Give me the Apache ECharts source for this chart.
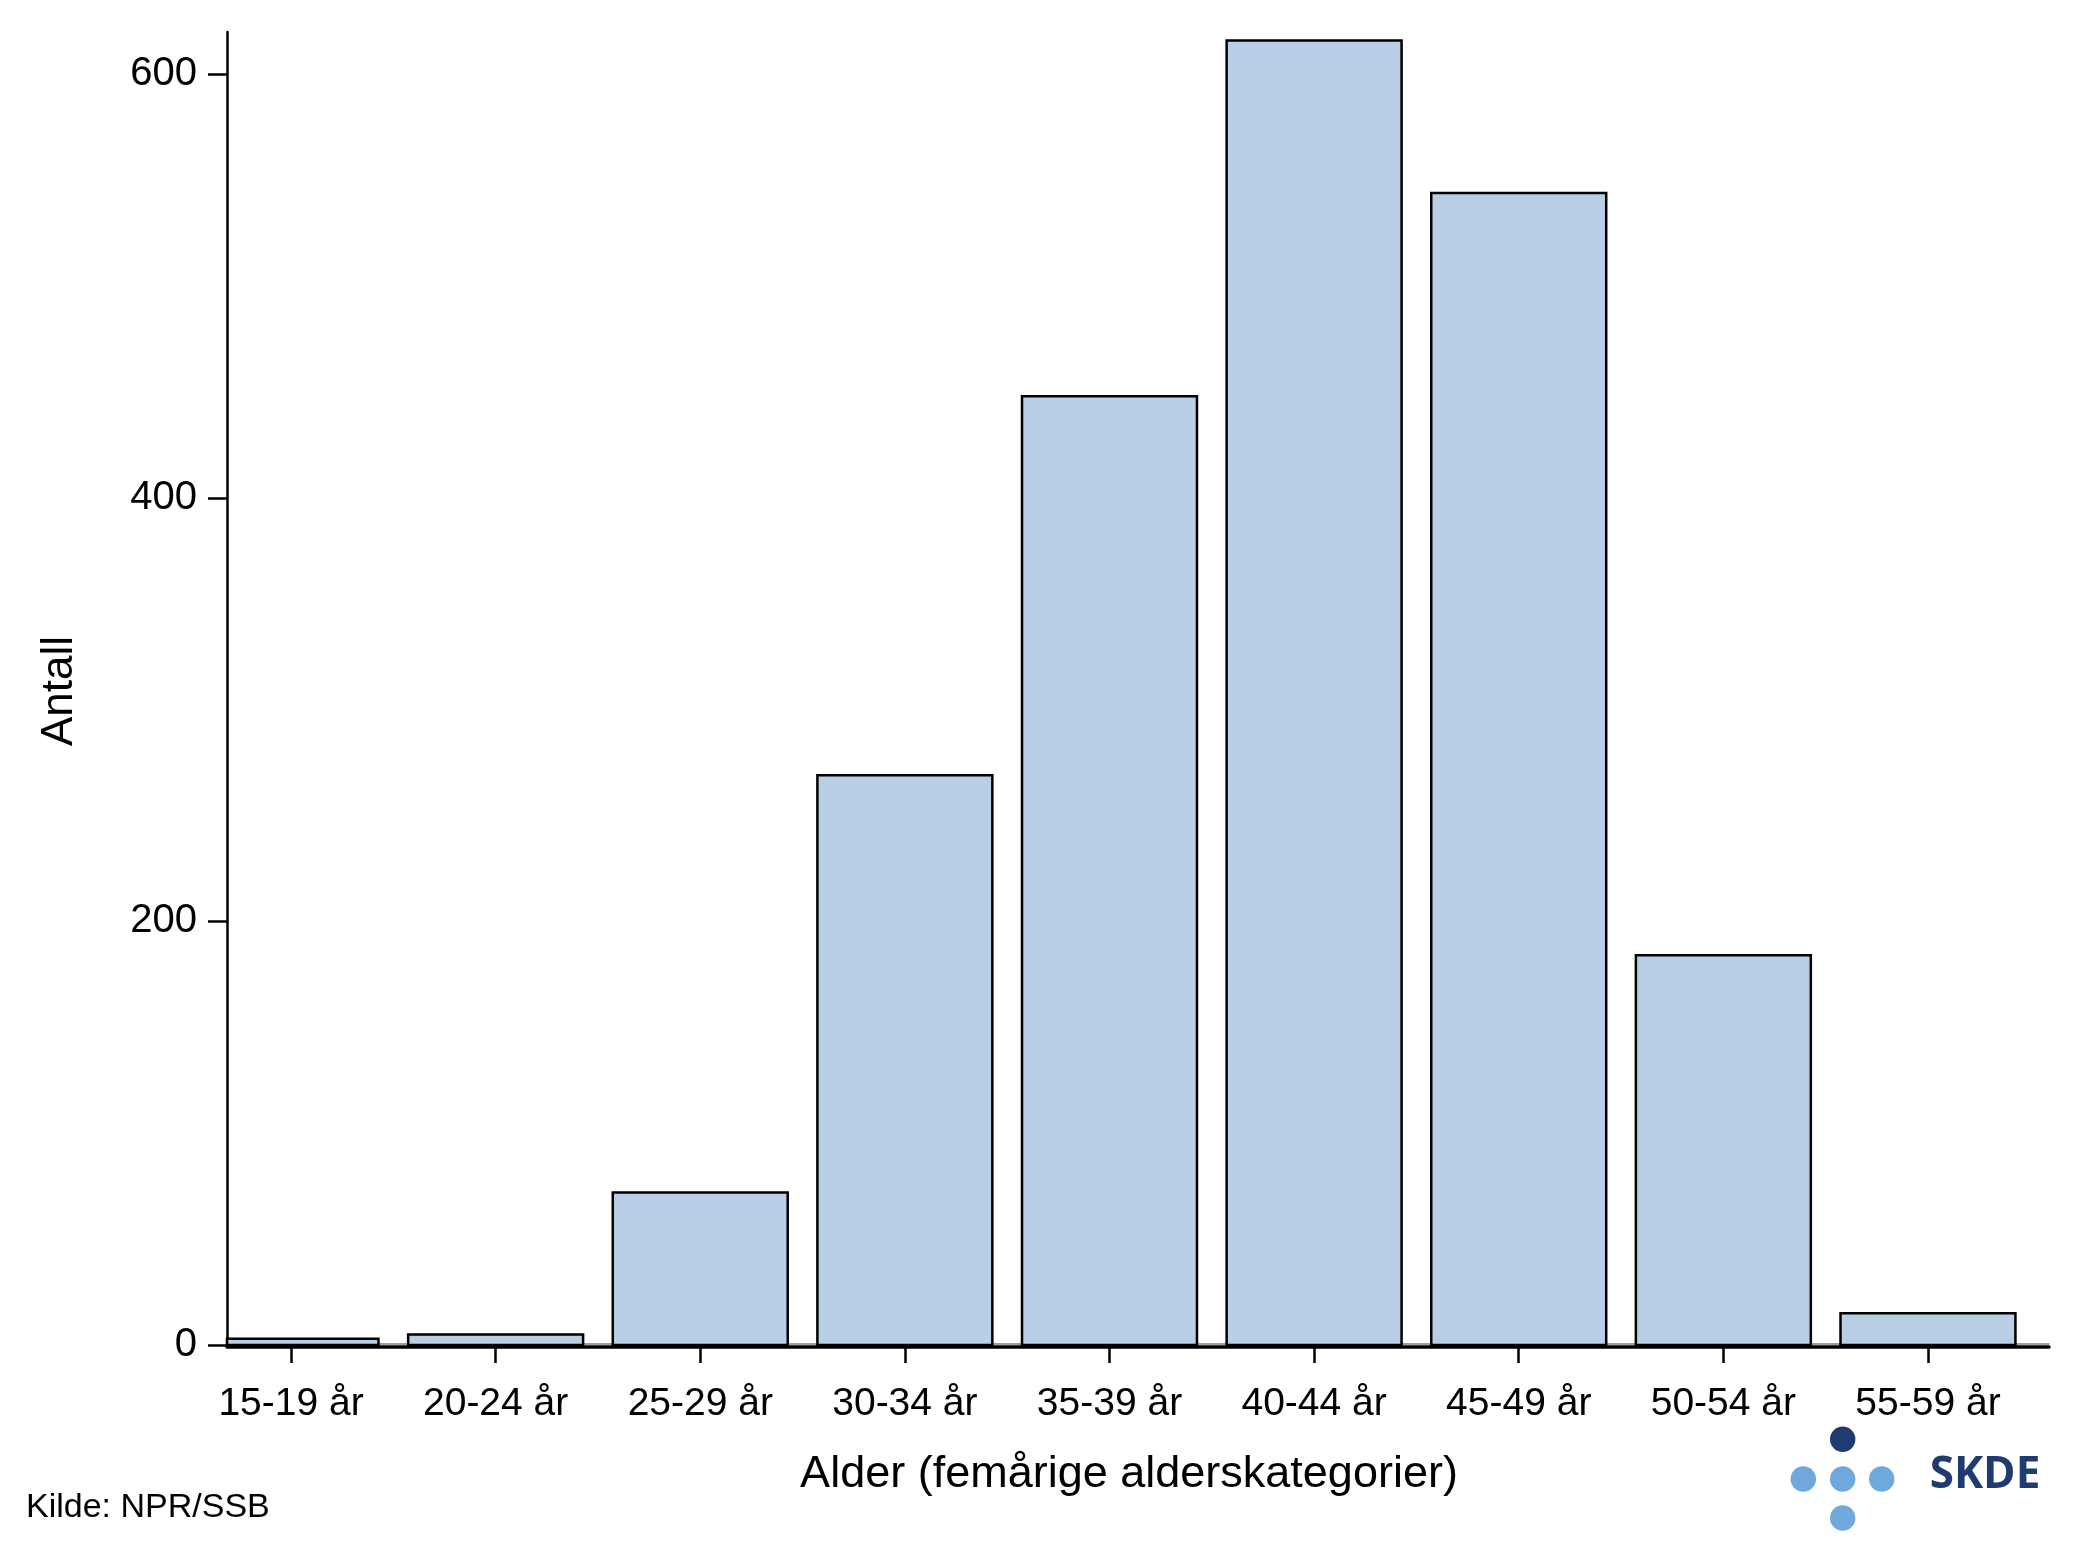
<!DOCTYPE html>
<html>
<head>
<meta charset="utf-8">
<script src="https://cdn.jsdelivr.net/npm/echarts@6/dist/echarts.min.js"></script>
<style>
html,body{margin:0;padding:0;background:#fff;}
#chart{width:2083px;height:1562px;}
</style>
</head>
<body>
<div id="chart"></div>
<script>
const categories = ['15-19 år','20-24 år','25-29 år','30-34 år','35-39 år','40-44 år','45-49 år','50-54 år','55-59 år'];
const antall = [3, 5, 72, 269, 448, 616, 544, 184, 15];
const yTicks = [0, 200, 400, 600];
const xTitle = 'Alder (femårige alderskategorier)';
const yTitle = 'Antall';
const source = 'Kilde: NPR/SSB';
const logoText = 'SKDE';

const FONT = '"Liberation Sans", Arial, sans-serif';
const chart = echarts.init(document.getElementById('chart'), null, {renderer: 'canvas'});

const gridTop = 32, gridBottom = 217;
const yMax = 620;
// bars are placed on a value axis by category index so they can be clipped at the y axis
const barData = antall.map((v, i) => [i, v]);

function renderBar(params, api) {
  const i = api.value(0), v = api.value(1);
  const top = api.coord([i, v]);
  const base = api.coord([i, 0]);
  const w = api.size([1, 0])[0] * 0.855;
  const cs = params.coordSys;
  const rect = echarts.graphic.clipRectByRect(
    {x: top[0] - w / 2, y: top[1], width: w, height: base[1] - top[1]},
    {x: cs.x, y: cs.y - 5, width: cs.width, height: cs.height + 5}
  );
  if (!rect) return null;
  return {
    type: 'rect', shape: rect,
    style: {fill: '#B9CFE6', stroke: '#000', lineWidth: 2.5}
  };
}

const option = {
  backgroundColor: '#ffffff',
  animation: false,
  grid: [
    {left: 188.7, right: 52.7, top: gridTop, bottom: gridBottom, containLabel: false},
    {left: 227, right: 34, top: gridTop, bottom: gridBottom, containLabel: false}
  ],
  xAxis: [
    {
      type: 'category', gridIndex: 0, data: categories, boundaryGap: true,
      offset: 3,
      axisLine: {show: false},
      axisTick: {show: true, alignWithLabel: true, length: 18, lineStyle: {color: '#000', width: 2.5}},
      axisLabel: {show: true, color: '#000', fontFamily: FONT, fontSize: 39, margin: 37}
    },
    {
      type: 'value', gridIndex: 1, min: -0.31283, max: 8.5915,
      offset: 2,
      axisLine: {show: true, onZero: false, lineStyle: {color: '#000', width: 3.5}},
      axisTick: {show: false}, axisLabel: {show: false}, splitLine: {show: false}
    },
    {
      type: 'value', gridIndex: 1, min: 0, max: 1, position: 'bottom',
      offset: -1,
      axisLine: {show: true, onZero: false, lineStyle: {color: '#808080', width: 1.5}},
      axisTick: {show: false}, axisLabel: {show: false}, splitLine: {show: false}
    }
  ],
  yAxis: [
    {
      type: 'value', gridIndex: 0, min: 0, max: yMax, interval: 200,
      show: false, splitLine: {show: false}
    },
    {
      type: 'value', gridIndex: 1, min: 0, max: yMax, interval: 200,
      axisLine: {show: true, onZero: false, lineStyle: {color: '#000', width: 2.5}},
      axisTick: {show: true, length: 19, lineStyle: {color: '#000', width: 2.5},
        customValues: yTicks},
      axisLabel: {show: true, color: '#000', fontFamily: FONT, fontSize: 40, margin: 30,
        customValues: yTicks},
      splitLine: {show: false}
    }
  ],
  series: [
    {
      type: 'custom', xAxisIndex: 1, yAxisIndex: 1, data: barData,
      renderItem: renderBar, clip: false, z: 1
    }
  ],
  graphic: [
    {type: 'text', x: 1129, y: 1475, style: {text: xTitle, font: '45px ' + FONT, fill: '#000', textAlign: 'center', textVerticalAlign: 'middle'}},
    {type: 'text', x: 60, y: 691, rotation: Math.PI / 2, style: {text: yTitle, font: '44px ' + FONT, fill: '#000', textAlign: 'center', textVerticalAlign: 'middle'}},
    {type: 'text', x: 26, y: 1508, style: {text: source, font: '34px ' + FONT, fill: '#000', textAlign: 'left', textVerticalAlign: 'middle'}},
    {type: 'circle', shape: {cx: 1842.7, cy: 1439.3, r: 12.7}, style: {fill: '#1F3B70'}},
    {type: 'circle', shape: {cx: 1803.3, cy: 1479, r: 12.7}, style: {fill: '#6FA8DC'}},
    {type: 'circle', shape: {cx: 1842.7, cy: 1479, r: 12.7}, style: {fill: '#6FA8DC'}},
    {type: 'circle', shape: {cx: 1881.7, cy: 1479, r: 12.7}, style: {fill: '#6FA8DC'}},
    {type: 'circle', shape: {cx: 1842.7, cy: 1518, r: 12.7}, style: {fill: '#6FA8DC'}},
    {type: 'text', x: 1985, y: 1475, style: {text: logoText, font: 'bold 44px "Open Sans", ' + FONT, fill: '#1F3B70', textAlign: 'center', textVerticalAlign: 'middle'}}
  ]
};
chart.setOption(option);
</script>
</body>
</html>
